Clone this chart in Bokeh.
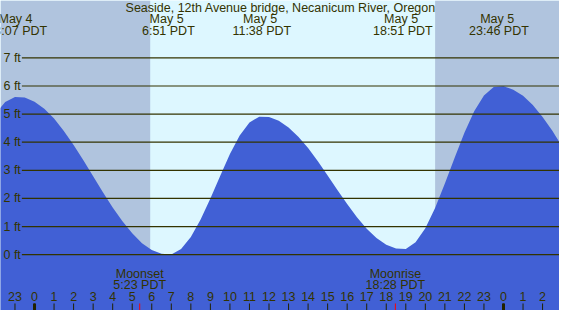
from bokeh.plotting import figure
from bokeh.models import Range1d
from bokeh.embed import file_html
from bokeh.resources import INLINE
from bokeh.core.properties import value

# ---------------- data ----------------
title = "Seaside, 12th Avenue bridge, Necanicum River, Oregon"

# hours since midnight May 5 (PDT)
hours = [-2.0, -1.5, -1.0, -0.5, 0.0, 0.5, 1.0, 1.5, 2.0, 2.5, 3.0, 3.5, 4.0, 4.5,
         5.0, 5.5, 6.0, 6.5, 7.0, 7.5, 8.0, 8.5, 9.0, 9.5, 10.0, 10.5, 11.0, 11.5,
         12.0, 12.5, 13.0, 13.5, 14.0, 14.5, 15.0, 15.5, 16.0, 16.5, 17.0, 17.5,
         18.0, 18.5, 19.0, 19.5, 20.0, 20.5, 21.0, 21.5, 22.0, 22.5, 23.0, 23.5,
         24.0, 24.5, 25.0, 25.5, 26.0, 26.5, 27.0]
tide_ft = [5.01, 5.43, 5.61, 5.59, 5.44, 5.19, 4.84, 4.40, 3.90, 3.36, 2.79, 2.22, 1.68, 1.19,
           0.76, 0.41, 0.17, 0.03, 0.01, 0.20, 0.63, 1.25, 2.00, 2.80, 3.58, 4.24, 4.70, 4.91,
           4.90, 4.76, 4.52, 4.19, 3.79, 3.32, 2.82, 2.30, 1.80, 1.33, 0.92, 0.59,
           0.35, 0.22, 0.20, 0.44, 0.94, 1.66, 2.53, 3.45, 4.34, 5.10, 5.66, 5.96,
           5.99, 5.87, 5.65, 5.32, 4.90, 4.41, 3.85]

extreme_hours = [-0.883, 6.85, 11.633, 18.85, 23.767]
extreme_dates = ["May  4", "May  5", "May  5", "May  5", "May  5"]
extreme_times = ["23:07 PDT", "6:51 PDT", "11:38 PDT", "18:51 PDT", "23:46 PDT"]

sunrise_hour = 5.92
sunset_hour = 20.5

moon_hours = [5.383, 18.467]
moon_names = ["Moonset", "Moonrise"]
moon_times = ["5:23 PDT", "18:28 PDT"]

tick_hours = list(range(-1, 27))
tick_labels = [str(h % 24) for h in tick_hours]
midnight_hours = [0, 24]

ft_levels = [0, 1, 2, 3, 4, 5, 6, 7]
ft_labels = ["0 ft", "1 ft", "2 ft", "3 ft", "4 ft", "5 ft", "6 ft", "7 ft"]

# ---------------- figure ----------------
X0, X1 = -1.741, 26.866
Y0, Y1 = -1.985, 9.04

p = figure(width=559, height=310, output_backend="svg", toolbar_location=None,
           x_range=Range1d(X0, X1), y_range=Range1d(Y0, Y1),
           x_axis_type=None, y_axis_type=None, min_border=0)
p.outline_line_color = None
p.background_fill_color = "#DDF7FF"
p.border_fill_color = "#DDF7FF"

FONT = value("Liberation Sans")
TXT = "#333300"

# night shading
p.quad(left=[X0, sunset_hour], right=[sunrise_hour, X1], bottom=Y0, top=Y1,
       fill_color="#B0C4DE", line_color=None)

# water
p.varea(x=hours, y1=Y0, y2=tide_ft, fill_color="#4160D5")

# level lines
p.segment(x0=-0.647, x1=X1, y0=ft_levels, y1=ft_levels, line_color="#333300", line_width=1.2)
p.text(x=-1.59, y=ft_levels, text=ft_labels, text_font=FONT, text_font_size="12.5px",
       text_color=TXT, text_baseline="middle", text_align="left")

# title and extremes
p.text(x=[12.6], y=[8.77], text=[title], text_font=FONT, text_font_size="12.5px",
       text_color=TXT, text_baseline="middle", text_align="center")
p.text(x=extreme_hours, y=8.37, text=extreme_dates, text_font=FONT, text_font_size="12.5px",
       text_color=TXT, text_baseline="middle", text_align="center")
p.text(x=extreme_hours, y=7.97, text=extreme_times, text_font=FONT, text_font_size="12.5px",
       text_color=TXT, text_baseline="middle", text_align="center")

# moon events
p.text(x=moon_hours, y=-0.68, text=moon_names, text_font=FONT, text_font_size="12.5px",
       text_color=TXT, text_baseline="middle", text_align="center")
p.text(x=moon_hours, y=-1.08, text=moon_times, text_font=FONT, text_font_size="12.5px",
       text_color=TXT, text_baseline="middle", text_align="center")
p.segment(x0=moon_hours, x1=moon_hours, y0=-1.735, y1=Y0, line_color="#FF0000", line_width=1)

# hour ticks and labels
p.text(x=tick_hours, y=-1.50, text=tick_labels, text_font=FONT, text_font_size="12.5px",
       text_color=TXT, text_baseline="middle", text_align="center")
p.segment(x0=tick_hours, x1=tick_hours, y0=-1.735, y1=Y0, line_color="#222200", line_width=1)
p.segment(x0=midnight_hours, x1=midnight_hours, y0=-1.735, y1=Y0, line_color="#222200", line_width=3)

open("out.html", "w").write(file_html(p, INLINE))
